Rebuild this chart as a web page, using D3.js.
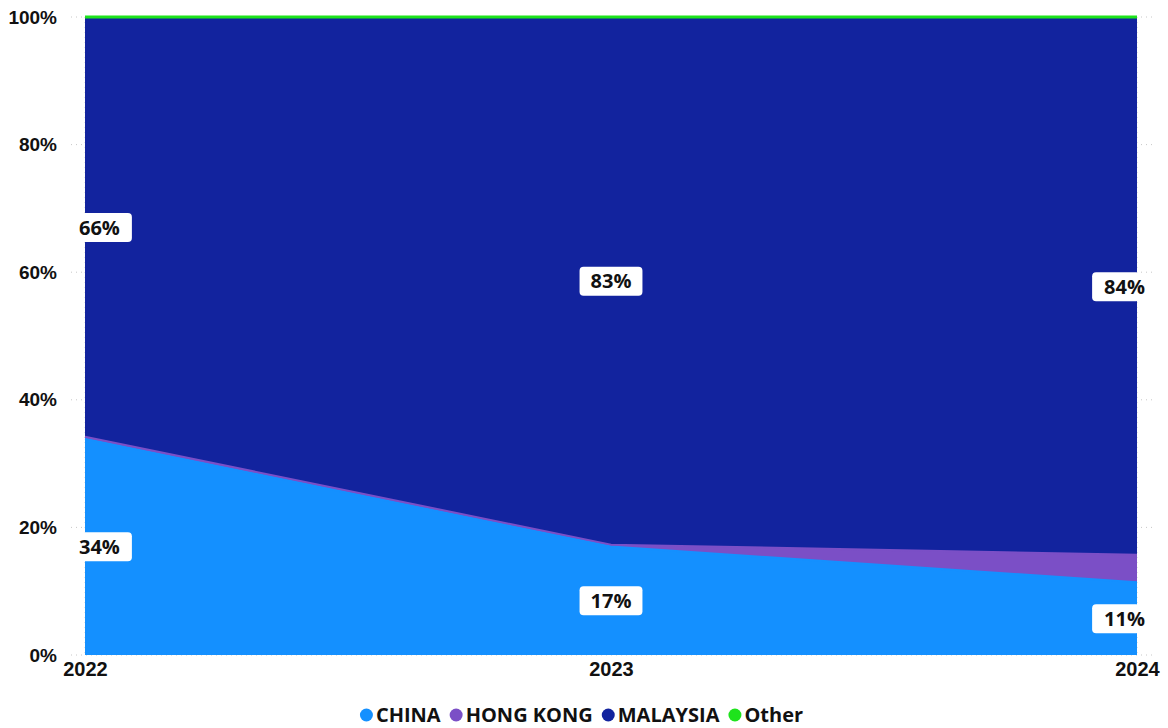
<!DOCTYPE html>
<html>
<head>
<meta charset="utf-8">
<script src="https://cdn.jsdelivr.net/npm/d3@7/dist/d3.min.js"></script>
<style>
  html, body { margin: 0; padding: 0; background: #fff; }
  svg { display: block; font-family: "Open Sans", "Noto Sans", sans-serif; }
</style>
</head>
<body>
<svg id="chart" width="1168" height="728"></svg>
<script>
// Share of volume by origin, per year (percent)
const years = ["2022", "2023", "2024"];
const seriesNames = ["CHINA", "HONG KONG", "MALAYSIA", "Other"];
const china    = [33.9, 17.0, 11.4];
const hongKong = [0.3, 0.3, 4.3];
const malaysia = [65.6, 82.6, 84.0];
const other    = [0.2, 0.1, 0.3];
const yTicks = [0, 20, 40, 60, 80, 100];
const labelledSeries = ["CHINA", "MALAYSIA"];

const colors = {
  "CHINA": "#1490ff",
  "HONG KONG": "#7b4fc6",
  "MALAYSIA": "#12239e",
  "Other": "#1ee31c"
};

const FONT = 20;

const rows = years.map((y, i) => {
  const total = china[i] + hongKong[i] + malaysia[i] + other[i];
  return {
    year: y,
    "CHINA": china[i] / total * 100,
    "HONG KONG": hongKong[i] / total * 100,
    "MALAYSIA": malaysia[i] / total * 100,
    "Other": other[i] / total * 100,
    raw: { "CHINA": china[i], "HONG KONG": hongKong[i], "MALAYSIA": malaysia[i], "Other": other[i] }
  };
});

const svg = d3.select("#chart");
const margin = { left: 85, right: 31, top: 17, bottom: 73 };
const W = 1168, H = 728;

const x = d3.scalePoint().domain(years).range([margin.left, W - margin.right]);
const y = d3.scaleLinear().domain([0, 100]).range([H - margin.bottom, margin.top]);

// dotted gridlines
const grid = svg.append("g");
grid.selectAll("line.h").data(yTicks).join("line")
  .attr("x1", margin.left - 14).attr("x2", W - margin.right + 16)
  .attr("y1", d => y(d)).attr("y2", d => y(d))
  .attr("stroke", "#c8c8c8").attr("stroke-width", 1).attr("stroke-dasharray", "1,4");
grid.selectAll("line.v").data(years).join("line")
  .attr("x1", d => x(d)).attr("x2", d => x(d))
  .attr("y1", y(100)).attr("y2", y(0))
  .attr("stroke", "#c8c8c8").attr("stroke-width", 1).attr("stroke-dasharray", "1,4");

const stack = d3.stack().keys(seriesNames);
const layers = stack(rows);

const area = d3.area()
  .x(d => x(d.data.year))
  .y0(d => y(d[0]))
  .y1(d => y(d[1]));
const topLine = d3.line()
  .x(d => x(d.data.year))
  .y(d => y(d[1]));

const areas = svg.append("g");
layers.forEach(layer => {
  areas.append("path").datum(layer)
    .attr("d", area)
    .attr("fill", colors[layer.key]);
});
layers.forEach(layer => {
  areas.append("path").datum(layer)
    .attr("d", topLine)
    .attr("fill", "none")
    .attr("stroke", colors[layer.key])
    .attr("stroke-width", layer.key === "Other" ? 3 : 2);
});

// y axis labels
const yAxis = d3.axisLeft(y).tickValues(yTicks).tickFormat(d => d + "%").tickSize(0).tickPadding(0);
const yg = svg.append("g").attr("transform", `translate(${margin.left - 28},0)`).call(yAxis);
yg.select(".domain").remove();
yg.selectAll("text").attr("font-size", 19).attr("font-weight", 700).attr("fill", "#111");

// x axis labels
const xAxis = d3.axisBottom(x).tickSize(0).tickPadding(0);
const xg = svg.append("g").attr("transform", `translate(0,${H - margin.bottom + 7})`).call(xAxis);
xg.select(".domain").remove();
xg.selectAll("text").attr("font-size", FONT).attr("font-weight", 700).attr("fill", "#111");

// data labels
const labels = svg.append("g");
layers.filter(l => labelledSeries.includes(l.key)).forEach(layer => {
  layer.forEach((d, i) => {
    const val = Math.round(d.data.raw[layer.key]);
    const cy = y((d[0] + d[1]) / 2);
    const cx = x(d.data.year);
    const g = labels.append("g");
    const t = g.append("text")
      .attr("y", cy)
      .attr("dy", "0.36em")
      .attr("font-size", FONT).attr("font-weight", 700).attr("fill", "#111")
      .text(val + "%");
    const tw = t.node().getComputedTextLength();
    let bx, bw;
    if (i === 0) {
      bx = cx - 8;
      bw = tw + 14;
      t.attr("x", cx - 6).attr("text-anchor", "start");
    } else if (i === years.length - 1) {
      bw = tw + 7;
      bx = cx + 3 - bw;
      t.attr("x", cx + 8).attr("text-anchor", "end");
    } else {
      bw = tw + 22;
      bx = cx - bw / 2;
      t.attr("x", cx).attr("text-anchor", "middle");
    }
    g.insert("rect", "text")
      .attr("x", bx).attr("y", cy - 14.5)
      .attr("width", bw).attr("height", 29)
      .attr("rx", 4).attr("fill", "#fff");
  });
});

// legend
const legend = svg.append("g").attr("transform", `translate(0,${H - 6})`);
const items = [];
seriesNames.forEach(name => {
  const g = legend.append("g");
  g.append("circle").attr("cx", 6.5).attr("cy", -7).attr("r", 6.5).attr("fill", colors[name]);
  const t = g.append("text").attr("x", 16).attr("y", 0)
    .attr("font-size", FONT).attr("font-weight", 700).attr("fill", "#111").text(name);
  const w = 16 + t.node().getComputedTextLength();
  items.push({ g, w });
});
const gap = 9;
const totalW = d3.sum(items, d => d.w) + gap * (items.length - 1);
let lx = 581.5 - totalW / 2;
items.forEach(it => {
  it.g.attr("transform", `translate(${lx},0)`);
  lx += it.w + gap;
});
</script>
</body>
</html>
